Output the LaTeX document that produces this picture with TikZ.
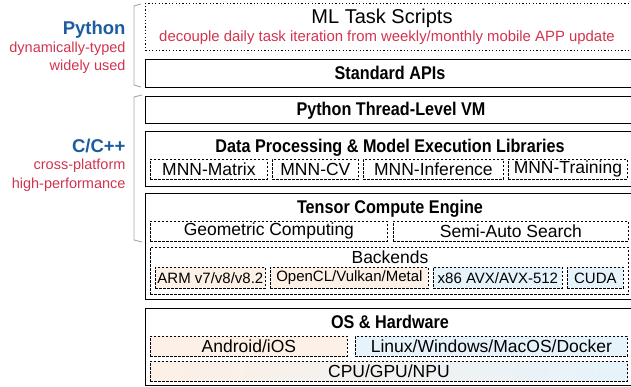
\documentclass[tikz,border=0pt]{standalone}
\usepackage{fontspec}
\setmainfont{Liberation Sans}
\newfontfamily\headfont{Liberation Sans}[FakeStretch=0.88]
\usepackage{tikz}
\usetikzlibrary{positioning}
\definecolor{pyblue}{HTML}{1D5C9E}
\definecolor{notered}{HTML}{D2334F}
\definecolor{bracketgray}{HTML}{A8A8A8}
\definecolor{peach}{HTML}{FDF0E6}
\definecolor{iceblue}{HTML}{E6F3FB}
\tikzset{
  layer/.style={draw, line width=1.3pt, anchor=north west, minimum width=492, inner sep=0pt},
  subbox/.style={draw, line width=0.8pt, dash pattern=on 2.6pt off 1.4pt, anchor=north west, inner sep=0pt, font=\fontsize{17.5}{17.5}\selectfont},
  tinybox/.style={subbox, font=\fontsize{15}{15}\selectfont},
  headtext/.style={font=\headfont\bfseries\fontsize{18.4}{18.4}\selectfont, anchor=base},
  sidehead/.style={pyblue, font=\bfseries\fontsize{18.5}{18.5}\selectfont, anchor=base east},
  sidenote/.style={notered, font=\fontsize{14.5}{14.5}\selectfont, anchor=base east},
  bracket/.style={bracketgray, line width=0.9pt}
}
\begin{document}
\begin{tikzpicture}[x=1pt, y=-1pt]
  \useasboundingbox (0,0) rectangle (631,387);
  \clip (0,0) rectangle (631,387);

  % Language labels on the left
  \node[sidehead] (py) at (129,35) {Python};
  \node[sidenote] (pyA) at (129,53) {dynamically-typed};
  \node[sidenote] (pyB) at (129,71) {widely used};
  \node[sidehead] (cc) at (129,153) {C/C++};
  \node[sidenote] (ccA) at (129,170) {cross-platform};
  \node[sidenote] (ccB) at (129,189) {high-performance};

  % Brackets
  \draw[bracket] (141,4) -- (134,6) -- (134,85) -- (141,87);
  \draw[bracket] (142,95) -- (134,97) -- (134,240) -- (142,242);

  % ML task scripts
  \node[layer, draw=black, line width=0.8pt, dash pattern=on 1.2pt off 2.2pt, minimum height=47] (ml) at (145,3) {};
  \node[font=\fontsize{20}{20}\selectfont, anchor=base] (mlT) at (382,24) {ML Task Scripts};
  \node[notered, font=\fontsize{14.9}{14.9}\selectfont, anchor=base] (mlN) at (387,42) {decouple daily task iteration from weekly/monthly mobile APP update};

  % Standard APIs and VM
  \node[layer, minimum height=28] (api) at (145,59) {};
  \node[headtext] (apiT) at (390,80) {Standard APIs};
  \node[layer, minimum height=27] (vm) at (145,96) {};
  \node[headtext] (vmT) at (391,116) {Python Thread-Level VM};

  % Libraries
  \node[layer, minimum height=55] (lib) at (145,131) {};
  \node[headtext] (libT) at (390,153) {Data Processing \& Model Execution Libraries};
  \node[subbox, minimum width=117, minimum height=20] (mat) at (150,159) {MNN-Matrix};
  \node[subbox, minimum width=86, minimum height=20] (cv) at (272,159) {MNN-CV};
  \node[subbox, minimum width=140, minimum height=20] (inf) at (363,159) {MNN-Inference};
  \node[subbox, minimum width=119, minimum height=20] (trn) at (508,159) {MNN-Training};

  % Tensor compute engine
  \node[layer, minimum height=106] (eng) at (145,193) {};
  \node[headtext] (engT) at (390,214) {Tensor Compute Engine};
  \node[subbox, minimum width=237, minimum height=20] (geo) at (150,221) {Geometric Computing};
  \node[subbox, minimum width=235, minimum height=20] (sas) at (393,221) {Semi-Auto Search};
  \node[subbox, minimum width=478, minimum height=47] (back) at (150,247) {};
  \node[font=\fontsize{17.5}{17.5}\selectfont, anchor=base] (backT) at (390,263) {Backends};
  \node[tinybox, fill=peach, minimum width=110, minimum height=21] (arm) at (155,267) {ARM v7/v8/v8.2};
  \node[tinybox, fill=peach, minimum width=158, minimum height=21] (ocl) at (270,267) {OpenCL/Vulkan/Metal};
  \node[tinybox, fill=iceblue, minimum width=129, minimum height=21] (x86) at (433,267) {x86 AVX/AVX-512};
  \node[tinybox, fill=iceblue, minimum width=56, minimum height=21] (cuda) at (567,267) {CUDA};

  % OS and hardware
  \node[layer, minimum height=77] (os) at (145,308) {};
  \node[headtext] (osT) at (390,328) {OS \& Hardware};
  \node[subbox, fill=peach, minimum width=197, minimum height=20] (andr) at (150,336) {Android/iOS};
  \node[subbox, fill=iceblue, minimum width=272, minimum height=20] (lin) at (355,336) {Linux/Windows/MacOS/Docker};
  \node[subbox, left color=peach, right color=iceblue, minimum width=477, minimum height=20] (chip) at (150,361) {CPU/GPU/NPU};
\end{tikzpicture}
\end{document}
